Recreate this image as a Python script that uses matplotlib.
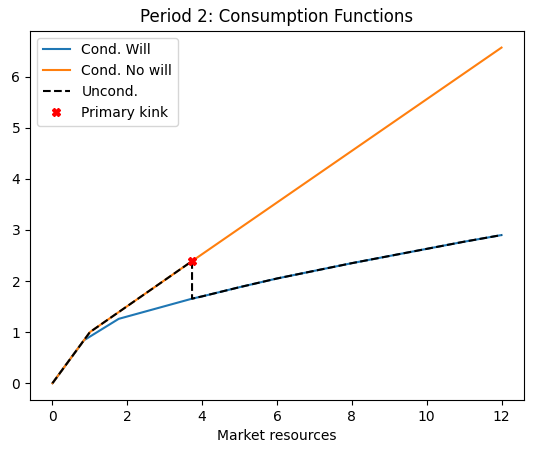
import numpy as np
import matplotlib
matplotlib.use("Agg")
import matplotlib.pyplot as plt

# Funciones de consumo, periodo 2
m_will = [0.0, 0.84, 1.77, 3.73, 4.0, 5.0, 6.0, 7.0, 8.0, 9.0, 10.0, 11.0, 12.0]
c_will = [0.0, 0.84, 1.26, 1.655, 1.70, 1.88, 2.05, 2.20, 2.35, 2.49, 2.63, 2.77, 2.90]

m_nowill = [0.0, 1.0, 3.73, 12.0]
c_nowill = [0.0, 1.0, 2.39, 6.57]

m_uncond = [0.0, 1.0, 3.73, 3.73, 4.0, 5.0, 6.0, 7.0, 8.0, 9.0, 10.0, 11.0, 12.0]
c_uncond = [0.0, 1.0, 2.39, 1.655, 1.70, 1.88, 2.05, 2.20, 2.35, 2.49, 2.63, 2.77, 2.90]

kink_m = [3.73]
kink_c = [2.39]

fig = plt.figure(figsize=(5.34, 4.53), dpi=100)
ax = fig.add_axes([0.0562, 0.117, 0.925, 0.815])

ax.plot(m_will, c_will, label="Cond. Will")
ax.plot(m_nowill, c_nowill, label="Cond. No will")
ax.plot(m_uncond, c_uncond, "k--", label="Uncond.")
ax.plot(kink_m, kink_c, "X", color="red", label="Primary kink")

ax.set_title("Period 2: Consumption Functions")
ax.set_xlabel("Market resources")
ax.legend(loc="upper left")

fig.savefig("out.png")
